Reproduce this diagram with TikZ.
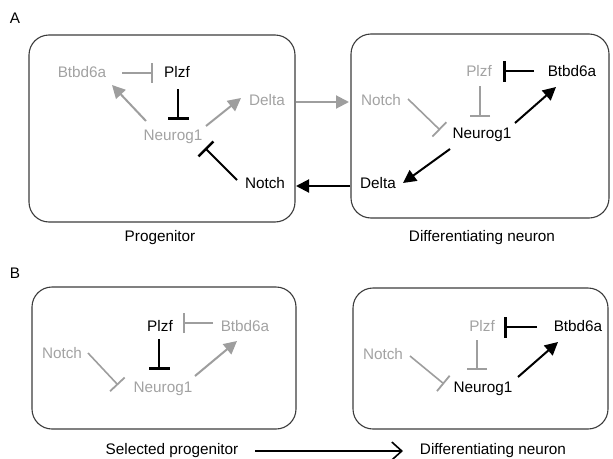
\documentclass[tikz,border=0pt]{standalone}
\usepackage{fontspec}
\setmainfont{Liberation Sans}
\usetikzlibrary{arrows.meta}
\definecolor{lgray}{HTML}{9E9E9E}
\definecolor{tgray}{HTML}{A2A2A2}
\definecolor{boxc}{HTML}{3C3C3C}
\tikzset{
  lbl/.style={inner sep=0pt, font=\fontsize{15.3}{18}\selectfont},
  gtxt/.style={lbl, text=tgray},
  btxt/.style={lbl, text=black},
  cell/.style={draw=boxc, line width=1.1pt, rounded corners=20pt},
  gact/.style={draw=lgray, line width=2pt, -{Triangle[length=13pt,width=13pt]}},
  bact/.style={draw=black, line width=2pt, -{Triangle[length=13pt,width=13pt]}},
  ginh/.style={draw=lgray, line width=1.6pt, -{Bar[width=20pt,line width=1.8pt]}},
  binh/.style={draw=black, line width=2pt, -{Bar[width=21pt,line width=2.6pt]}},
  openarr/.style={draw=black, line width=1.6pt, -{Straight Barb[length=10pt,width=18pt,line width=1.6pt]}}
}
\begin{document}
\begin{tikzpicture}[x=1pt,y=-1pt]
\useasboundingbox (0,0) rectangle (613,458);
% panel letters
\node[btxt] (lA) at (15,18) {A};
\node[btxt] (lB) at (15,273) {B};
% boxes
\draw[cell] (29,35) rectangle (295,222);
\draw[cell] (351,34) rectangle (609,218);
\draw[cell] (32,287) rectangle (296,429);
\draw[cell] (353,288) rectangle (608,429);
% captions
\node[btxt] (capA1) at (160,238) {Progenitor};
\node[btxt] (capA2) at (482,238) {Differentiating neuron};
\node[btxt] (sel) at (172,451) {Selected progenitor};
\node[btxt] (diff) at (493,451) {Differentiating neuron};
% ---- A1 progenitor
\node[gtxt] (bA) at (82,72) {Btbd6a};
\node[btxt] (pA) at (177,72) {Plzf};
\node[gtxt] (dA) at (267,100) {Delta};
\node[gtxt] (nA) at (173,137) {Neurog1};
\node[btxt] (tA) at (265,183) {Notch};
% ---- A2 differentiating neuron
\node[gtxt] (tB) at (381,100) {Notch};
\node[gtxt] (pB) at (479,71) {Plzf};
\node[btxt] (bB) at (572,71) {Btbd6a};
\node[btxt] (nB) at (482,135) {Neurog1};
\node[btxt] (dB) at (378,183) {Delta};
% ---- B1 selected progenitor
\node[btxt] (pC) at (160,326) {Plzf};
\node[gtxt] (bC) at (245,326) {Btbd6a};
\node[gtxt] (tC) at (62,353) {Notch};
\node[gtxt] (nC) at (163,389) {Neurog1};
% ---- B2
\node[gtxt] (pD) at (482,326) {Plzf};
\node[btxt] (bD) at (578,326) {Btbd6a};
\node[gtxt] (tD) at (383,354) {Notch};
\node[btxt] (nD) at (483,389) {Neurog1};
% connectors A1
\draw[ginh] ([shift={(40,1)}]bA.center) -- ([shift={(-24,1)}]pA.center);
\draw[binh] ([shift={(1,17)}]pA.center) -- ([shift={(5,-17)}]nA.center);
\draw[gact] ([shift={(-27,-16)}]nA.center) -- ([shift={(30,13)}]bA.center);
\draw[gact] ([shift={(33,-11)}]nA.center) -- ([shift={(-26,-2)}]dA.center);
\draw[binh] ([shift={(-28,-3)}]tA.center) -- ([shift={(32,11)}]nA.center);
% between cells
\draw[gact] ([shift={(29,2)}]dA.center) -- ([shift={(-32,2)}]tB.center);
\draw[bact] ([shift={(-28,3)}]dB.center) -- ([shift={(31,3)}]tA.center);
% connectors A2
\draw[binh] ([shift={(-38,0)}]bB.center) -- ([shift={(24,0)}]pB.center);
\draw[ginh] ([shift={(1,15)}]pB.center) -- ([shift={(-2,-18)}]nB.center);
\draw[ginh] ([shift={(27,-1)}]tB.center) -- ([shift={(-42,-5)}]nB.center);
\draw[bact] ([shift={(33,-12)}]nB.center) -- ([shift={(-16,16)}]bB.center);
\draw[bact] ([shift={(-32,14)}]nB.center) -- ([shift={(25,0)}]dB.center);
% connectors B1
\draw[ginh] ([shift={(-32,-3)}]bC.center) -- ([shift={(23,-3)}]pC.center);
\draw[binh] ([shift={(-1,13)}]pC.center) -- ([shift={(-4,-19)}]nC.center);
\draw[ginh] ([shift={(26,0)}]tC.center) -- ([shift={(-45,-4)}]nC.center);
\draw[gact] ([shift={(32,-13)}]nC.center) -- ([shift={(-8,15)}]bC.center);
% connectors B2
\draw[binh] ([shift={(-41,1)}]bD.center) -- ([shift={(22,1)}]pD.center);
\draw[ginh] ([shift={(-5,14)}]pD.center) -- ([shift={(-6,-19)}]nD.center);
\draw[ginh] ([shift={(27,2)}]tD.center) -- ([shift={(-39,-5)}]nD.center);
\draw[bact] ([shift={(35,-12)}]nD.center) -- ([shift={(-20,16)}]bD.center);
% bottom arrow
\draw[openarr] ([shift={(83,0)}]sel.center) -- ([shift={(-90,0)}]diff.center);
\end{tikzpicture}
\end{document}
